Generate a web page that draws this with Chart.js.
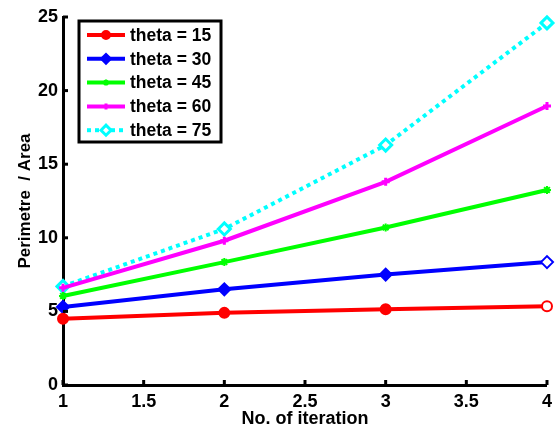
<!DOCTYPE html>
<html>
<head>
<meta charset="utf-8">
<script src="https://cdn.jsdelivr.net/npm/chart.js@4"></script>
<style>
  html, body { margin: 0; padding: 0; background: #fff; }
  #wrap { width: 558px; height: 432px; }
</style>
</head>
<body>
<div id="wrap"><canvas id="chart"></canvas></div>
<script>
// data
const iterations = [1, 2, 3, 4];
const labels = ['theta = 15', 'theta = 30', 'theta = 45', 'theta = 60', 'theta = 75'];
const theta15 = [4.5, 4.9, 5.15, 5.35];
const theta30 = [5.3, 6.5, 7.5, 8.35];
const theta45 = [6.05, 8.35, 10.7, 13.25];
const theta60 = [6.6, 9.8, 13.8, 18.95];
const theta75 = [6.7, 10.6, 16.3, 24.6];
const xTicks = [1, 1.5, 2, 2.5, 3, 3.5, 4];
const yTicks = [0, 5, 10, 15, 20, 25];

const FONT = 'Liberation Sans, Arial, sans-serif';

function pts(vals) {
  return vals.map((v, i) => ({ x: iterations[i], y: v }));
}

function series(label, vals, color, style, radius, extra) {
  return Object.assign({
    label: label,
    data: pts(vals),
    borderColor: color,
    backgroundColor: color,
    pointBackgroundColor: color,
    pointBorderColor: color,
    pointStyle: style,
    pointRadius: radius,
    pointBorderWidth: 2,
    borderWidth: 4,
    tension: 0,
    clip: false
  }, extra || {});
}

// last marker is cut in half by the axes edge in the original, looks hollow
function lastHollow(color) {
  return iterations.map((_, i) => i === iterations.length - 1 ? '#ffffff' : color);
}

// inward ticks, like the original plot
const inwardTicks = {
  id: 'inwardTicks',
  afterDraw(chart) {
    const ctx = chart.ctx;
    const xs = chart.scales.x, ys = chart.scales.y;
    ctx.save();
    ctx.strokeStyle = '#000';
    ctx.lineWidth = 3;
    xTicks.forEach(t => {
      const px = xs.getPixelForValue(t);
      ctx.beginPath();
      ctx.moveTo(px, ys.bottom);
      ctx.lineTo(px, ys.bottom - 5);
      ctx.stroke();
    });
    yTicks.forEach(t => {
      const py = ys.getPixelForValue(t);
      ctx.beginPath();
      ctx.moveTo(xs.left, py);
      ctx.lineTo(xs.left + 5, py);
      ctx.stroke();
    });
    ctx.restore();
  }
};

// legend box in the upper left corner of the plot
const boxLegend = {
  id: 'boxLegend',
  afterDraw(chart) {
    const ctx = chart.ctx;
    const left = 79, top = 21, w = 142, h = 121;
    ctx.save();
    ctx.fillStyle = '#fff';
    ctx.fillRect(left, top, w, h);
    ctx.strokeStyle = '#000';
    ctx.lineWidth = 3;
    ctx.strokeRect(left, top, w, h);
    ctx.font = 'bold 17.5px ' + FONT;
    ctx.textBaseline = 'middle';
    chart.data.datasets.forEach((ds, i) => {
      const y = top + 14 + i * 23.8;
      ctx.strokeStyle = ds.borderColor;
      ctx.lineWidth = 4;
      ctx.setLineDash(ds.borderDash || []);
      ctx.beginPath();
      ctx.moveTo(left + 8, y);
      ctx.lineTo(left + 46, y);
      ctx.stroke();
      ctx.setLineDash([]);
      ctx.fillStyle = ds.legendFill || ds.borderColor;
      ctx.strokeStyle = ds.pointBorderColor;
      ctx.lineWidth = ds.pointBorderWidth;
      Chart.helpers.drawPoint(ctx, {
        pointStyle: ds.pointStyle,
        radius: ds.pointRadius - 1,
        borderWidth: ds.pointBorderWidth
      }, left + 27, y);
      ctx.fillStyle = '#000';
      ctx.fillText(ds.label, left + 51, y + 1);
    });
    ctx.restore();
  }
};

new Chart(document.getElementById('chart'), {
  type: 'line',
  data: {
    datasets: [
      series(labels[0], theta15, '#ff0000', 'circle', 5,
        { pointBackgroundColor: lastHollow('#ff0000'), legendFill: '#ff0000' }),
      series(labels[1], theta30, '#0000ff', 'rectRot', 6,
        { pointBackgroundColor: lastHollow('#0000ff'), legendFill: '#0000ff' }),
      series(labels[2], theta45, '#00ff00', 'star', 4),
      series(labels[3], theta60, '#ff00ff', 'cross', 4, { pointBorderWidth: 3 }),
      series(labels[4], theta75, '#00ffff', 'rectRot', 6,
        { borderDash: [4, 4], pointBackgroundColor: '#ffffff', legendFill: '#ffffff', pointBorderWidth: 3 })
    ]
  },
  options: {
    responsive: true,
    maintainAspectRatio: false,
    animation: false,
    layout: { padding: { top: 17, right: 8, left: 0, bottom: 0 } },
    plugins: {
      legend: { display: false },
      tooltip: { enabled: false }
    },
    scales: {
      x: {
        type: 'linear',
        min: 1, max: 4,
        afterBuildTicks: s => { s.ticks = xTicks.map(v => ({ value: v })); },
        afterFit: s => { s.height = 47; },
        grid: { display: false, drawTicks: false, tickLength: 0 },
        border: { display: true, color: '#000', width: 3 },
        ticks: {
          color: '#000', padding: 6, maxRotation: 0,
          callback: v => String(v),
          font: { family: FONT, size: 18, weight: 'bold' }
        },
        title: {
          display: true, text: 'No. of iteration', color: '#000', padding: { top: 0, bottom: 2 },
          font: { family: FONT, size: 18, weight: 'bold' }
        }
      },
      y: {
        min: 0, max: 25,
        afterBuildTicks: s => { s.ticks = yTicks.map(v => ({ value: v })); },
        afterFit: s => { s.width = 63; },
        grid: { display: false, drawTicks: false, tickLength: 0 },
        border: { display: true, color: '#000', width: 3 },
        ticks: {
          color: '#000', padding: 5,
          callback: v => String(v),
          font: { family: FONT, size: 18, weight: 'bold' }
        },
        title: {
          display: true, text: 'Perimetre  / Area', color: '#000', padding: { top: 15, bottom: 0 },
          font: { family: FONT, size: 17, weight: 'bold' }
        }
      }
    }
  },
  plugins: [inwardTicks, boxLegend]
});
</script>
</body>
</html>
